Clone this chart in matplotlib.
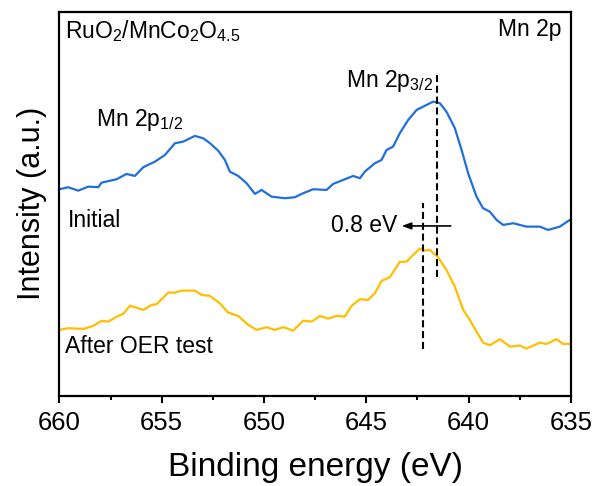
import matplotlib
matplotlib.use("Agg")
import matplotlib.pyplot as plt

plt.rcParams['font.family'] = ['Liberation Sans', 'DejaVu Sans']
plt.rcParams['mathtext.fontset'] = 'custom'
plt.rcParams['mathtext.rm'] = 'Liberation Sans'
plt.rcParams['mathtext.it'] = 'Liberation Sans:italic'

# Initial spectrum (binding energy eV, intensity a.u.)
be_initial = [660.0, 659.57, 659.08, 658.59, 658.10, 657.94, 657.20, 656.72, 656.31, 655.90,
              655.33, 654.84, 654.35, 653.95, 653.38, 652.97, 652.64, 652.24, 651.91, 651.67,
              651.26, 650.85, 650.44, 650.12, 649.63, 648.98, 648.49, 648.16, 647.60, 646.94,
              646.62, 646.13, 645.64, 645.31, 645.07, 644.58, 644.25, 644.01, 643.69, 643.36,
              642.95, 642.54, 642.22, 641.73, 641.40, 641.08, 640.67, 640.34, 640.02, 639.61,
              639.29, 638.96, 638.63, 638.31, 637.82, 637.17, 636.52, 636.11, 635.54, 635.05]
int_initial = [206.4, 208.4, 205.0, 209.0, 208.4, 213.0, 216.4, 221.7, 219.7, 228.4,
               234.0, 240.7, 252.4, 254.0, 259.7, 257.4, 252.4, 245.0, 235.7, 224.0,
               219.7, 212.4, 201.7, 205.7, 199.0, 197.4, 198.4, 201.7, 206.4, 205.7,
               211.7, 215.7, 219.7, 217.4, 224.0, 232.4, 235.7, 245.7, 249.0, 262.4,
               275.7, 285.7, 289.0, 294.0, 292.4, 284.0, 267.4, 245.7, 222.4, 199.0,
               187.4, 184.0, 175.7, 170.7, 172.4, 169.0, 169.0, 165.7, 169.0, 175.7]

# After OER test spectrum
be_after = [660.0, 659.57, 658.80, 658.35, 657.94, 657.61, 657.13, 656.88, 656.55, 655.90,
            655.49, 655.25, 654.68, 654.35, 654.03, 653.38, 653.05, 652.64, 652.16, 651.75,
            651.26, 650.77, 650.36, 649.87, 649.47, 649.06, 648.57, 648.08, 647.67, 647.27,
            646.86, 646.45, 646.05, 645.72, 645.31, 644.91, 644.58, 644.25, 643.85, 643.36,
            643.03, 642.79, 642.38, 642.14, 641.89, 641.49, 641.08, 640.67, 640.26, 639.94,
            639.61, 639.29, 638.96, 638.47, 637.98, 637.49, 637.17, 636.52, 636.19, 635.70,
            635.38, 635.05]
int_after = [65.7, 67.4, 66.7, 69.7, 74.7, 74.0, 79.7, 81.7, 90.0, 85.7,
             90.7, 91.4, 103.0, 103.0, 105.0, 105.0, 100.7, 99.7, 92.4, 83.0,
             79.7, 70.7, 65.7, 68.4, 65.7, 68.4, 65.0, 75.0, 74.0, 79.7,
             77.0, 79.7, 79.0, 89.7, 96.4, 95.7, 102.4, 114.7, 118.4, 133.7,
             134.0, 139.0, 147.0, 145.0, 145.7, 138.4, 125.7, 109.0, 85.7, 75.7,
             64.0, 53.0, 50.4, 56.4, 49.0, 50.0, 47.0, 53.0, 51.7, 56.4,
             51.7, 51.7]

# Peak markers (eV) and their vertical extents (intensity)
peak_initial = 641.55
peak_initial_span = [118.7, 320.7]
peak_after = 642.25
peak_after_span = [46.4, 193.0]
shift_arrow_from = 640.87
shift_arrow_to = 643.27
shift_arrow_level = 169.7

xticks = [660, 655, 650, 645, 640, 635]

fig = plt.figure(figsize=(5.94, 4.86), dpi=100)
ax = fig.add_axes([0.100, 0.186, 0.861, 0.790])

ax.plot(be_initial, int_initial, color='#1F6FDC', lw=1.6)
ax.plot(be_after, int_after, color='#FFBE00', lw=1.6)

dash = (0, (3.4, 1.8))
ax.vlines(peak_initial, *peak_initial_span, colors='black', linestyles=dash, lw=1.5)
ax.vlines(peak_after, *peak_after_span, colors='black', linestyles=dash, lw=1.5)
ax.annotate('', xy=(shift_arrow_to, shift_arrow_level),
            xytext=(shift_arrow_from, shift_arrow_level),
            arrowprops=dict(arrowstyle='-|>,head_length=0.55,head_width=0.2', color='black', lw=1.2,
                            shrinkA=0, shrinkB=0))

ax.set_xlim(660, 635)
ax.set_ylim(0, 384)
ax.set_xticks(xticks)
ax.set_xticks([657.5, 652.5, 647.5, 642.5, 637.5], minor=True)
ax.set_yticks([])
ax.tick_params(axis='x', which='major', direction='out', length=5, width=1.5, labelsize=18.5, pad=6)
ax.tick_params(axis='x', which='minor', direction='out', length=3, width=1.5)
for s in ax.spines.values():
    s.set_linewidth(1.6)

ax.set_xlabel('Binding energy (eV)', fontsize=24, labelpad=12)
ax.set_ylabel('Intensity (a.u.)', fontsize=22, labelpad=9)

fs = 16.5
ax.text(0.011, 0.983, r'RuO$_2$/MnCo$_2$O$_{4.5}$', transform=ax.transAxes, fontsize=fs, va='top', ha='left')
ax.text(0.982, 0.983, 'Mn 2p', transform=ax.transAxes, fontsize=fs, va='top', ha='right')
ax.text(658.2, 269.7, r'Mn 2p$_{1/2}$', fontsize=fs, va='baseline', ha='left')
ax.text(645.98, 309.0, r'Mn 2p$_{3/2}$', fontsize=fs, va='baseline', ha='left')
ax.text(659.6, 168.7, 'Initial', fontsize=fs, va='baseline', ha='left')
ax.text(659.75, 42.4, 'After OER test', fontsize=fs, va='baseline', ha='left')
ax.text(643.5, shift_arrow_level, '0.8 eV', fontsize=fs, va='center', ha='right')

fig.savefig('out.png', dpi=100)
